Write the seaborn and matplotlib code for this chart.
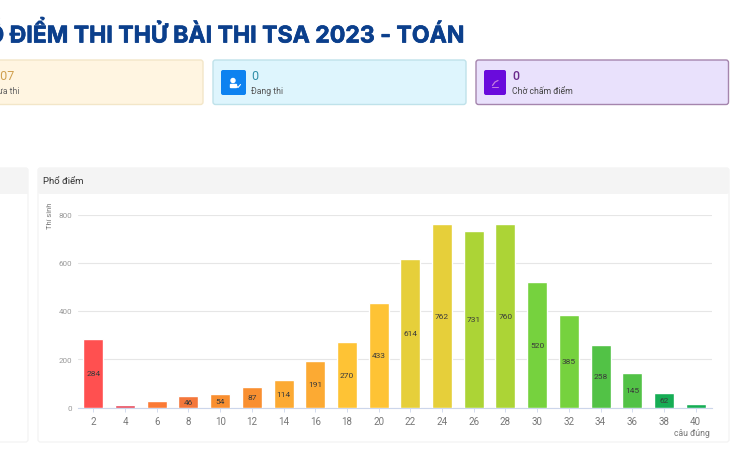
import matplotlib
matplotlib.use("Agg")
import matplotlib.pyplot as plt
import matplotlib.patheffects as pe
from matplotlib.patches import FancyBboxPatch, Rectangle
import pandas as pd
import seaborn as sns

categories = ["2","4","6","8","10","12","14","16","18","20","22","24","26","28","30","32","34","36","38","40"]
values = [284,12,27,46,54,87,114,191,270,433,614,762,731,760,520,385,258,145,62,15]
bar_labels = ["284","","","46","54","87","114","191","270","433","614","762","731","760","520","385","258","145","62",""]
bar_colors = ["#ff5050","#e74a5c","#fb7a35","#f4773b","#f98f30","#f98f30","#fcaa33","#fcaa33","#fec335","#fec335",
              "#e6cf3a","#e6cf3a","#acd436","#acd436","#76d23e","#76d23e","#52c246","#52c246","#16ad55","#16ad55"]
yticks = [0,200,400,600,800]
title = "PHỔ ĐIỂM THI THỬ BÀI THI TSA 2023 - TOÁN"

W, H = 736, 460
sns.set_theme(style="white")
plt.rcParams["font.family"] = ["Roboto", "DejaVu Sans"]
fig = plt.figure(figsize=(W/100, H/100), dpi=100, facecolor="white")

bg = fig.add_axes([0, 0, 1, 1])
bg.set_xlim(0, W); bg.set_ylim(H, 0); bg.axis("off")

def card(x0, y0, x1, y1, fc, ec, r=2.5, lw=1.0):
    bg.add_patch(FancyBboxPatch((x0, y0), x1-x0, y1-y0, boxstyle=f"round,pad=0,rounding_size={r}",
                                fc=fc, ec=ec, lw=lw))

bg.text(465, 43.5, title, ha="right", va="baseline", fontsize=16.6, fontweight="bold",
        family=["Inter", "DejaVu Sans"], color="#0b3f8c",
        path_effects=[pe.withStroke(linewidth=0.5, foreground="#0b3f8c")])

# stat cards
card(-10, 61, 203, 105.5, "#fff5e1", "#f3e6c8")
card(213, 61, 466, 105.5, "#def5fd", "#bfe2ea")
card(476, 61, 728.5, 105.5, "#e9e1fc", "#a585ad")
card(221, 71, 246, 96, "#0d82f0", "none", r=2)
card(484, 71, 506, 96, "#6a0bdc", "none", r=2)

bg.text(-14, 77, "1907", color="#d0a04f", fontsize=9, va="center", ha="left")
bg.text(-13, 91.5, "Chưa thi", color="#666666", fontsize=6.2, va="center", ha="left")
bg.text(251, 77, "0", color="#2f8ea8", fontsize=9, va="center")
bg.text(251, 91.5, "Đang thi", color="#555555", fontsize=6.2, va="center")
bg.text(512, 77, "0", color="#6a2a8c", fontsize=9, va="center", fontweight="medium")
bg.text(512, 91.5, "Chờ chấm điểm", color="#444444", fontsize=6.2, va="center")

# icons
bg.add_patch(plt.Circle((233, 81.5), 2.0, color="white"))
bg.add_patch(Rectangle((229.5, 85), 6.5, 2.5, color="white"))
bg.plot([236.5, 238, 240.5], [87, 88.5, 85.5], color="white", lw=0.8)
bg.plot([492.5, 495, 498], [86.5, 83, 81.5], color="#c57de0", lw=0.9)
bg.plot([491.5, 497.5], [87.5, 87.5], color="#c57de0", lw=0.7)

# panels
card(-10, 169, 28, 443, "white", "#f4f4f4")
card(38, 169, 729, 443, "white", "#f4f4f4")
card(38, 169, 729, 195, "#f4f4f4", "none")
bg.add_patch(Rectangle((-10, 169), 38, 26, fc="#f4f4f4", ec="none"))
bg.text(43, 182, "Phổ điểm", color="#333333", fontsize=6.8, va="center")

# chart
ax = fig.add_axes([77.5/W, 1-408.5/H, 634/W, 193/H], facecolor="none")
df = pd.DataFrame({"cau": categories, "thi_sinh": values})
sns.barplot(data=df, x="cau", y="thi_sinh", hue="cau", order=categories, hue_order=categories,
            palette=bar_colors, legend=False, width=0.63, saturation=1, ax=ax, zorder=3)
for c, lab in zip(ax.containers, bar_labels):
    ax.bar_label(c, labels=[lab], label_type="center", fontsize=6, color="#3a3a3a", zorder=4)

ax.set_xlim(-0.5, len(categories)-0.5)
ax.set_ylim(0, 800)
ax.set_yticks(yticks)
ax.set_yticklabels([str(v) for v in yticks])
ax.grid(axis="y", color="#e6e6e6", lw=0.8, zorder=0)
ax.grid(axis="x", visible=False)
ax.set_axisbelow(True)
for s in ["top", "right", "left"]:
    ax.spines[s].set_visible(False)
ax.spines["bottom"].set_color("#ccd6eb")
ax.spines["bottom"].set_linewidth(0.8)
ax.tick_params(axis="x", length=3, width=0.6, color="#ccd6eb", labelsize=7, labelcolor="#777777", pad=3, bottom=True)
ax.tick_params(axis="y", length=0, labelsize=5.8, labelcolor="#999999", pad=4)
ax.set_xlabel(""); ax.set_ylabel("")
bg.text(51, 216, "Thí sinh", rotation=90, fontsize=5.4, color="#777777", ha="center", va="center")
bg.text(710, 434, "câu đúng", fontsize=6.2, color="#777777", ha="right", va="center")

fig.savefig("out.png", dpi=100)
